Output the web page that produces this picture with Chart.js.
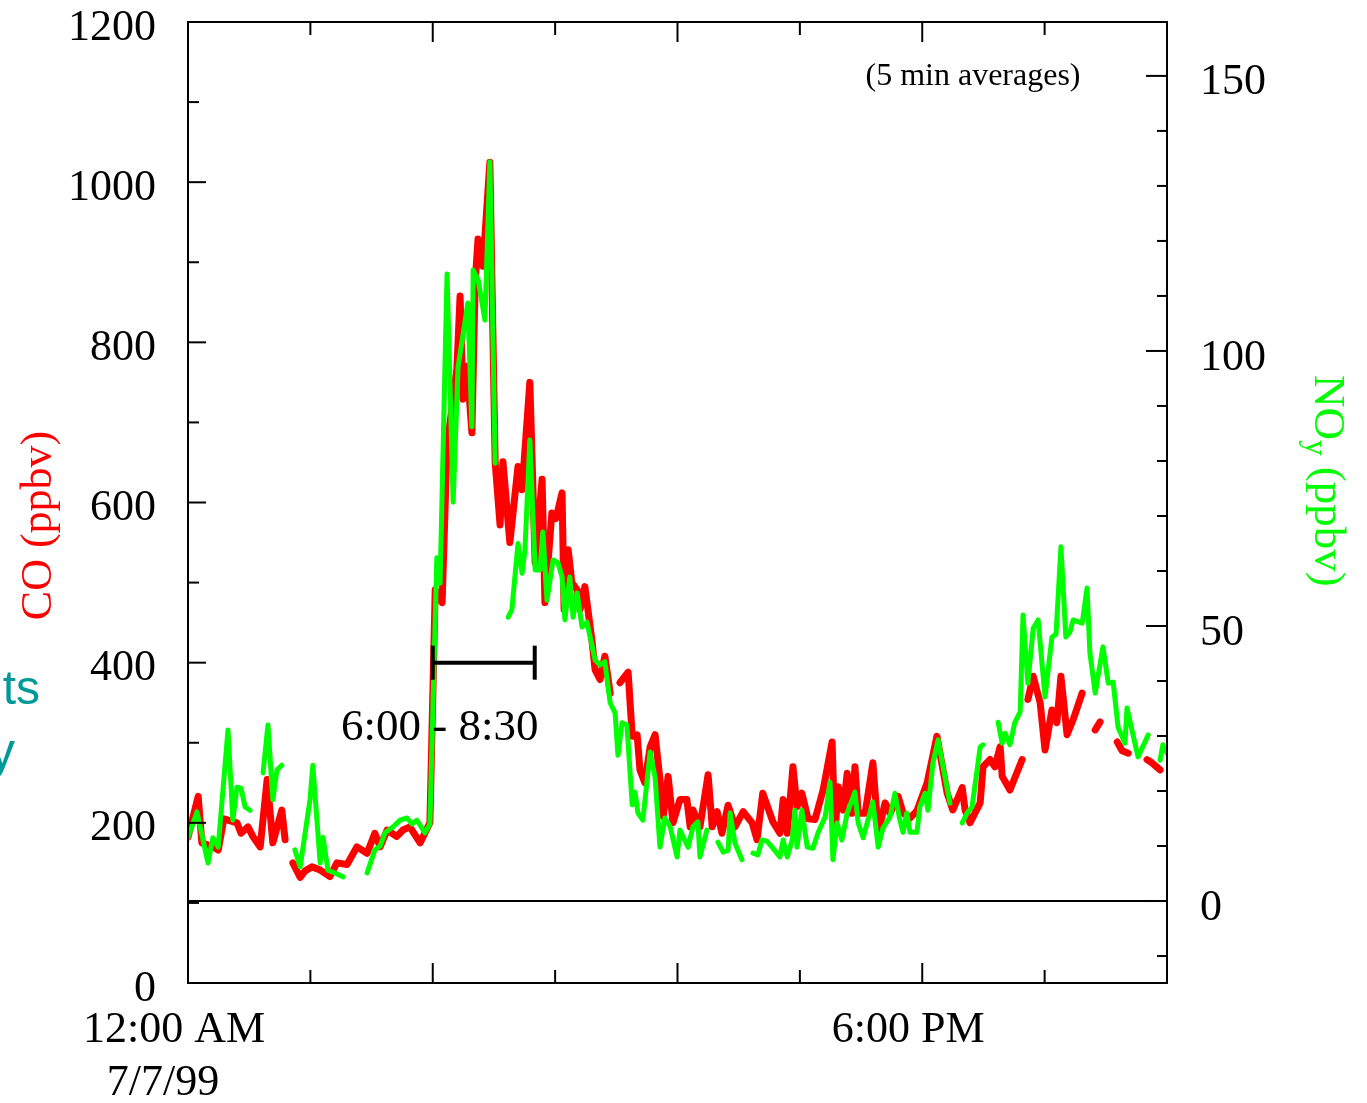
<!DOCTYPE html>
<html>
<head>
<title>CO and NOy, 7/7/99</title>
<script src="https://cdn.jsdelivr.net/npm/chart.js@4.4.0/dist/chart.umd.min.js"></script>
<style>
    body { margin: 0; background-color: #ffffff; }
    #chart { display: block; }
</style>
</head>
<body>
<canvas id="chart" width="1367" height="1103"></canvas>
<script>

// CO, 5 min averages (hours after midnight, ppbv) - null = gap in the record
var coHours = [0.00, 0.25, 0.34, 0.61, 0.74, 0.88, 1.20, 1.30, 1.47, 1.59, 1.77, 1.94, 2.08, 2.30, 2.38, 2.48,
    2.57, 2.75, 2.87, 3.04, 3.24, 3.48, 3.65, 3.90, 4.14, 4.39, 4.58, 4.71, 4.88, 5.12, 5.27, 5.44, 5.69, 5.93,
    6.06, 6.23, 6.35, 6.59, 6.67, 6.74, 6.84, 6.96, 7.04, 7.11, 7.23, 7.40, 7.53, 7.65, 7.72, 7.89, 8.09, 8.19,
    8.38, 8.51, 8.68, 8.75, 8.92, 9.02, 9.17, 9.22, 9.32, 9.41, 9.54, 9.61, 9.73, 9.90, 9.98, 10.10, 10.22, 10.35,
    10.47, 10.59, 10.79, 10.89, 11.01, 11.08, 11.20, 11.33, 11.45, 11.57, 11.65, 11.77, 11.89, 12.06, 12.23, 12.31,
    12.38, 12.55, 12.75, 12.85, 12.97, 13.09, 13.24, 13.41, 13.61, 13.83, 13.95, 14.09, 14.34, 14.51, 14.59, 14.69,
    14.83, 14.93, 15.05, 15.20, 15.37, 15.57, 15.79, 15.86, 15.94, 16.06, 16.16, 16.28, 16.35, 16.43, 16.60, 16.79,
    16.92, 17.09, 17.21, 17.41, 17.53, 17.70, 17.87, 18.12, 18.36, 18.61, 18.75, 18.98, 19.05, 19.17, 19.42, 19.49,
    19.66, 19.78, 19.91, 19.96, 20.15, 20.45, 20.52, 20.59, 20.72, 20.89, 21.01, 21.18, 21.30, 21.40, 21.55, 21.70,
    21.92, 22.08, 22.24, 22.36, 22.55, 22.78, 22.90, 23.05, 23.30, 23.51, 23.63, 23.83];
var coPpbv = [182, 233, 175, 170, 166, 205, 200, 187, 195, 183, 170, 254, 175, 216, 179, null,
    150, 132, 140, 145, 141, 133, 150, 148, 170, 162, 187, 170, 191, 183, 191, 195, 175, 200,
    491, 475, 670, 766, 858, 729, 770, 687, 875, 929, 895, 1025, 650, 572, 651, 550, 645, 616,
    750, 525, 629, 475, 587, 580, 612, 466, 541, 500, 491, 466, 495, 429, 391, 379, 408, 362,
    null, 375, 388, 308, 310, 266, 250, 295, 310, 254, 208, 258, 200, 229, 229, 195,
    216, 195, 260, 195, 214, 187, 222, 195, 214, 200, 179, 237, 201, 187, 229, 187,
    270, 220, 237, 205, 204, 241, 301, 187, 245, 216, 262, 212, 270, 212, 212, 275,
    187, 225, 212, 233, 212, 206, 215, 250, 308, 237, 216, 244, 216, 200, 225, 270,
    279, 270, 295, 258, 241, 279, null, 354, 383, 350, 291, 341, 325, 383, 310, 329,
    362, null, 316, 326, null, 301, 290, 287, null, 279, 275, 266];

// NOy, 5 min averages (hours after midnight, ppbv)
var noyHours = [0.00, 0.22, 0.49, 0.61, 0.74, 0.98, 1.10, 1.20, 1.30, 1.40, 1.52, 1.65,
    1.84, 1.96, 2.08, 2.18, 2.30, 2.45, 2.62, 2.75, 2.99, 3.06, 3.24, 3.31, 3.43, 3.60, 3.80, 4.10,
    4.39, 4.58, 4.71, 4.83, 5.03, 5.20, 5.37, 5.49, 5.61, 5.81, 5.93, 6.10, 6.18, 6.35, 6.50, 6.62,
    6.86, 6.96, 6.99, 7.11, 7.28, 7.40, 7.53, 7.70, 7.85, 7.94, 8.09, 8.19, 8.26, 8.38, 8.51, 8.63,
    8.70, 8.80, 8.95, 9.07, 9.17, 9.24, 9.36, 9.44, 9.54, 9.66, 9.78, 9.98, 10.10, 10.22, 10.35, 10.47,
    10.54, 10.64, 10.76, 10.89, 10.96, 11.03, 11.15, 11.33, 11.45, 11.57, 11.69, 11.82, 11.99, 12.06,
    12.26, 12.38, 12.50, 12.55, 12.72, 12.85, 12.99, 13.12, 13.24, 13.29, 13.41, 13.58, 13.70,
    13.85, 13.97, 14.07, 14.19, 14.32, 14.51, 14.59, 14.69, 14.81, 14.88, 14.93, 15.05, 15.18, 15.32,
    15.45, 15.62, 15.74, 15.81, 15.91, 16.03, 16.16, 16.35, 16.43, 16.55, 16.65, 16.79, 16.92, 17.04,
    17.21, 17.33, 17.45, 17.53, 17.62, 17.70, 17.87, 17.94, 18.07, 18.14, 18.26, 18.39, 18.51, 18.68,
    18.80, 18.98, 19.10, 19.22, 19.42, 19.49, 19.70, 19.86, 19.96, 20.03, 20.15, 20.27, 20.40, 20.47,
    20.59, 20.72, 20.84, 21.01, 21.18, 21.28, 21.40, 21.52, 21.62, 21.70, 21.92, 22.04, 22.11, 22.24,
    22.43, 22.56, 22.68, 22.80, 22.97, 23.02, 23.14, 23.29, 23.54, 23.70, 23.83, 23.90, 24.00];
var noyPpbv = [11.5, 16.2, 6.9, 11.5, 9.8, 31.1, 14.7, 20.7, 20.5, 17.1, 16.5, null,
    23.3, 32.0, 18.4, 23.8, 24.7, null, 9.3, 6.2, 18.4, 24.7, 6.9, 11.6, 5.6, 5.1, 4.4, null,
    5.1, 9.3, 10.0, 12.4, 13.5, 14.7, 15.1, 14.0, 14.7, 12.4, 14.0, 62.4, 57.8, 114.0, 72.5, 97.0,
    108.7, 86.2, 114.7, 113.0, 105.6, 134.4, 79.6, null, 51.6, 53.0, 65.0, 59.6, 63.8, 83.8, 60.2, 60.2,
    67.1, 54.7, 62.0, 61.5, 58.9, 51.1, 58.9, 51.6, 56.0, 49.8, 50.7, 43.8, 42.9, 43.5, 36.0, 34.2,
    26.5, 32.4, 32.0, 17.5, 19.8, 16.0, 14.7, 27.1, 22.5, 9.8, 15.1, 13.5, 8.0, 12.9,
    9.8, 13.5, 14.4, 8.0, 12.9, null, 10.7, 8.9, 9.2, 16.0, 10.5, 7.5, null,
    8.7, 8.4, 11.1, 10.9, 9.8, 8.0, 11.1, 8.0, 11.0, 16.5, 9.8, 16.5, 9.8, 9.6,
    12.5, 15.3, 21.6, 7.5, 14.2, 11.1, 16.0, 19.8, 14.2, 11.5, 14.2, 18.0, 9.8, 13.3,
    15.3, 19.6, 14.7, 12.5, 16.0, 12.5, 12.5, 17.1, 19.6, 16.5, 25.0, 29.3, 24.4, 17.8,
    null, 14.2, 16.0, 17.1, 28.0, 28.4, null, 32.5, 28.7, 30.5, 28.4, 32.5, 34.4, 52.0,
    39.6, 49.6, 51.1, 37.1, 48.0, 48.5, 64.4, 48.0, 48.9, 51.1, 50.5, 56.9, 45.1, 37.8,
    46.2, 39.6, 39.8, 31.6, 28.7, 35.1, 31.1, 26.2, 30.2, null, 25.6, 28.4, 26.9];

// axes
var coTicks = [0, 200, 400, 600, 800, 1000, 1200];
var noyTicks = [0, 50, 100, 150];
var xLabelHours = [0, 18];
var xLabelText = [['12:00 AM', '7/7/99  '], '6:00 PM'];

// 6:00 - 8:30 marker
var spanStart = 6;
var spanEnd = 8.5;
var spanLevel = 400;
var spanLabel = '6:00 - 8:30';

var serif = "'Liberation Serif', 'Times New Roman', serif";

function pairs(hours, values) {
    return hours.map(function (h, i) { return { x: h, y: values[i] }; });
}

var framePlugin = {
    id: 'frame',
    afterDatasetsDraw: function (chart) {
        var ctx = chart.ctx;
        var a = chart.chartArea;
        var xs = chart.scales.x, yc = chart.scales.yCo, yn = chart.scales.yNoy;

        function seg(x1, y1, x2, y2) {
            ctx.beginPath(); ctx.moveTo(x1, y1); ctx.lineTo(x2, y2); ctx.stroke();
        }

        ctx.save();
        ctx.strokeStyle = '#000000';
        ctx.lineWidth = 2;
        ctx.strokeRect(a.left, a.top, a.right - a.left, a.bottom - a.top);

        // NOy zero line
        var z = yn.getPixelForValue(0);
        seg(a.left, z, a.right, z);

        // inward ticks
        for (var v = 100; v < 1200; v += 100) {
            var y = yc.getPixelForValue(v);
            seg(a.left, y, a.left + (v % 200 === 0 ? 18 : 11), y);
        }
        for (var n = -10; n <= 150; n += 10) {
            var y2 = yn.getPixelForValue(n);
            seg(a.right, y2, a.right - (n % 50 === 0 ? 21 : 10), y2);
        }
        for (var h = 3; h < 24; h += 3) {
            var x = xs.getPixelForValue(h);
            var len = h % 6 === 0 ? 20 : 13;
            seg(x, a.bottom, x, a.bottom - len);
            seg(x, a.top, x, a.top + len);
        }

        // 6:00 - 8:30 bar
        var bx1 = xs.getPixelForValue(spanStart), bx2 = xs.getPixelForValue(spanEnd);
        var by = yc.getPixelForValue(spanLevel);
        ctx.lineWidth = 4;
        seg(bx1, by, bx2, by);
        seg(bx1, by - 17, bx1, by + 17);
        seg(bx2, by - 17, bx2, by + 17);

        ctx.fillStyle = '#000000';
        ctx.font = '45px ' + serif;
        ctx.textAlign = 'center';
        ctx.textBaseline = 'middle';
        ctx.fillText(spanLabel, (bx1 + bx2) / 2 - 44, by + 66);

        ctx.font = '32px ' + serif;
        ctx.fillText('(5 min averages)', a.right - 194, a.top + 55);

        // axis titles
        ctx.textBaseline = 'alphabetic';
        ctx.save();
        ctx.translate(51, (a.top + a.bottom) / 2 + 23);
        ctx.rotate(-Math.PI / 2);
        ctx.fillStyle = '#ff0000';
        ctx.font = '44px ' + serif;
        ctx.textAlign = 'center';
        ctx.fillText('CO (ppbv)', 0, 0);
        ctx.restore();

        ctx.save();
        ctx.translate(a.right + 148, 375);
        ctx.rotate(Math.PI / 2);
        ctx.fillStyle = '#00ff00';
        ctx.textAlign = 'left';
        ctx.font = '45px ' + serif;
        ctx.fillText('NO', 0, 0);
        var w = ctx.measureText('NO').width;
        ctx.font = '31px ' + serif;
        ctx.fillText('y', w, 9);
        w += ctx.measureText('y').width;
        ctx.font = '45px ' + serif;
        ctx.fillText(' (ppbv)', w, 0);
        ctx.restore();

        // clipped text from the neighbouring slide
        ctx.fillStyle = '#009999';
        ctx.textAlign = 'right';
        ctx.font = '48px "Liberation Sans", Arial, sans-serif';
        ctx.fillText('ts', 40, 704);
        ctx.font = '52px "Liberation Sans", Arial, sans-serif';
        ctx.fillText('y', 15, 768);

        ctx.restore();
    }
};

var tickFont = { family: serif, size: 44 };

function plain(value) { return String(value); }

var chart = new Chart(document.getElementById('chart').getContext('2d'), {
    type: 'line',
    data: {
        datasets: [{
            label: 'NOy',
            data: pairs(noyHours, noyPpbv),
            yAxisID: 'yNoy',
            borderColor: '#00ff00',
            borderWidth: 5,
            pointRadius: 0,
            borderJoinStyle: 'round',
            borderCapStyle: 'round',
            order: 0
        }, {
            label: 'CO',
            data: pairs(coHours, coPpbv),
            yAxisID: 'yCo',
            borderColor: '#ff0000',
            borderWidth: 7,
            pointRadius: 0,
            borderJoinStyle: 'round',
            borderCapStyle: 'round',
            order: 1
        }]
    },
    options: {
        responsive: false,
        animation: false,
        layout: { padding: { top: 22, left: 0, right: 0, bottom: 0 } },
        plugins: { legend: { display: false }, tooltip: { enabled: false } },
        scales: {
            x: {
                type: 'linear', min: 0, max: 24,
                grid: { display: false, drawTicks: false, tickLength: 0 },
                border: { display: false },
                afterBuildTicks: function (s) { s.ticks = xLabelHours.map(function (v) { return { value: v }; }); },
                ticks: {
                    font: tickFont, color: '#000000', padding: 21, maxRotation: 0, autoSkip: false, labelOffset: -14,
                    callback: function (value, index) { return xLabelText[index]; }
                },
                afterFit: function (s) { s.height = 120; s.paddingLeft = 0; s.paddingRight = 0; }
            },
            yCo: {
                position: 'left', min: 0, max: 1200,
                grid: { display: false, drawTicks: false, tickLength: 0 },
                border: { display: false },
                afterBuildTicks: function (s) { s.ticks = coTicks.map(function (v) { return { value: v }; }); },
                ticks: { font: tickFont, color: '#000000', padding: 32, labelOffset: 6, callback: plain },
                afterFit: function (s) { s.width = 188; s.paddingTop = 0; s.paddingBottom = 0; }
            },
            yNoy: {
                position: 'right', min: -14.9, max: 159.8,
                grid: { display: false, drawTicks: false, tickLength: 0 },
                border: { display: false },
                afterBuildTicks: function (s) { s.ticks = noyTicks.map(function (v) { return { value: v }; }); },
                ticks: { font: tickFont, color: '#000000', padding: 33, labelOffset: 7, callback: plain },
                afterFit: function (s) { s.width = 200; s.paddingTop = 0; s.paddingBottom = 0; }
            }
        }
    },
    plugins: [framePlugin]
});

</script>
</body>
</html>
